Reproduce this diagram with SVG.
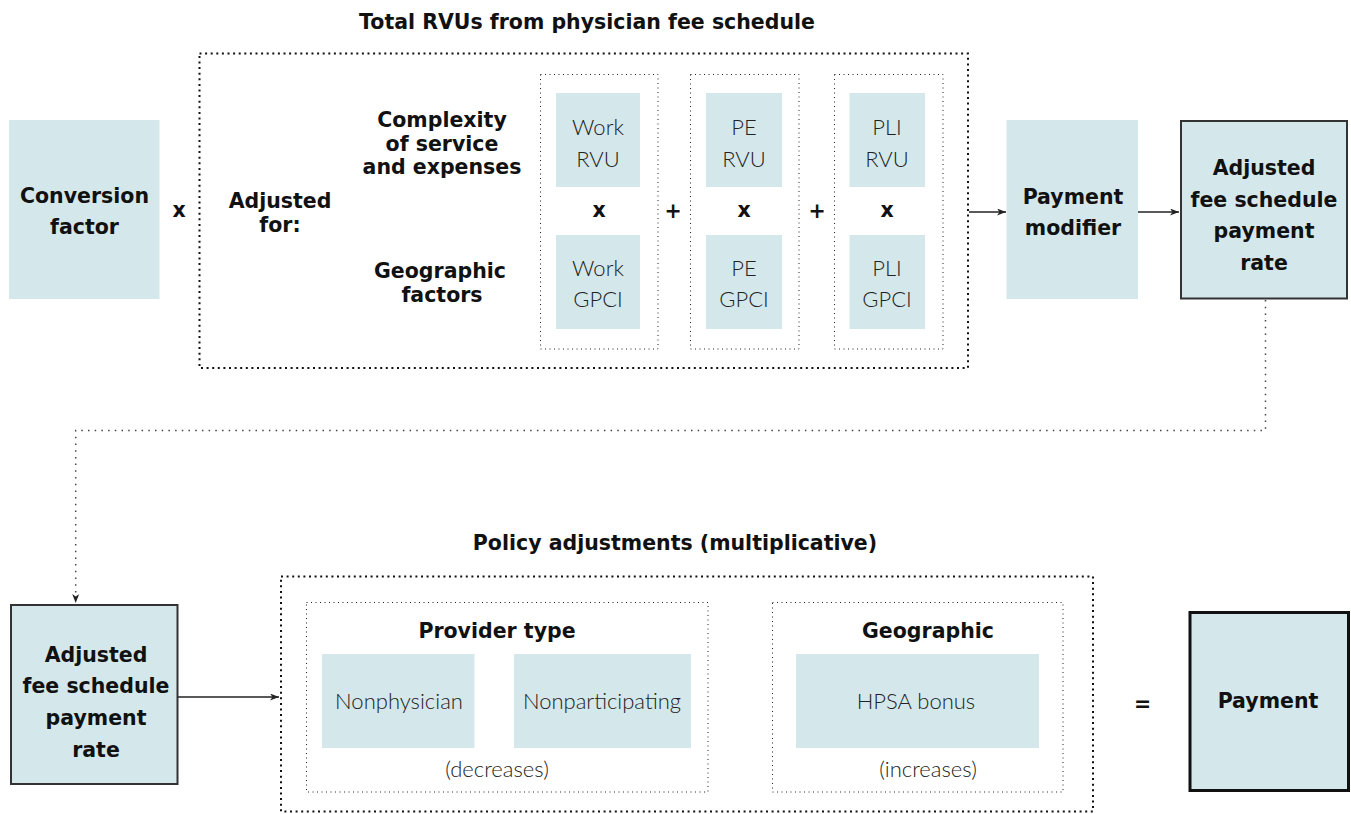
<svg xmlns="http://www.w3.org/2000/svg" width="1351" height="814" viewBox="0 0 1351 814">
<style>
.fill{fill:#d4e8eb;stroke:none}
.framed{fill:#d4e8eb;stroke:#333;stroke-width:2}
.heavy{fill:#d4e8eb;stroke:#111;stroke-width:3}
.bigdot{fill:none;stroke:#111;stroke-width:2;stroke-dasharray:2 3.6}
.thindot{fill:none;stroke:#222;stroke-width:1;stroke-dasharray:1 3.5}
.b{font-family:"DejaVu Sans","Liberation Sans",sans-serif;font-weight:bold;font-size:20.5px;fill:#111;text-anchor:middle}
.l{font-family:Lato,"Liberation Sans",Arial,sans-serif;font-weight:300;font-size:22px;fill:#222;text-anchor:middle}
.solid{fill:none;stroke:#222;stroke-width:1.5}
.dotted{fill:none;stroke:#444;stroke-width:1.5;stroke-dasharray:1.5 5.2}
</style>
<defs>
<marker id="ah" markerUnits="userSpaceOnUse" markerWidth="10" markerHeight="8" refX="9" refY="3.5" orient="auto">
<path d="M0,0 L9,3.5 L0,7 L2.5,3.5 Z" fill="#222"/>
</marker>
</defs>

<g id="title-rvu"><text class="b" x="587" y="29">Total RVUs from physician fee schedule</text></g>

<g id="conversion-factor">
<rect class="fill" x="9" y="120" width="150.5" height="179"/>
<text class="b" x="84.5" y="203">Conversion</text>
<text class="b" x="84.5" y="234">factor</text>
</g>
<g id="op-x1"><text class="b" x="179" y="217">x</text></g>

<g id="rvu-group">
<rect class="bigdot" x="199.5" y="53.5" width="768.5" height="314.5"/>
<text class="b" x="280" y="208">Adjusted</text>
<text class="b" x="280" y="232">for:</text>
<text class="b" x="442" y="127">Complexity</text>
<text class="b" x="442" y="151">of service</text>
<text class="b" x="442" y="174">and expenses</text>
<text class="b" x="440" y="278">Geographic</text>
<text class="b" x="442" y="302">factors</text>
</g>

<g id="col-work">
<rect class="thindot" x="540.5" y="74.5" width="117.5" height="274.5"/>
<rect class="fill" x="556" y="93" width="84" height="94"/>
<text class="l" x="598" y="135">Work</text>
<text class="l" x="598" y="167">RVU</text>
<text class="b" x="599" y="217">x</text>
<rect class="fill" x="556" y="235" width="84" height="94"/>
<text class="l" x="598" y="276">Work</text>
<text class="l" x="598" y="307">GPCI</text>
</g>
<g id="op-plus1"><text class="b" x="673" y="218">+</text></g>

<g id="col-pe">
<rect class="thindot" x="690.5" y="74.5" width="108.5" height="274.5"/>
<rect class="fill" x="706" y="93" width="76" height="94"/>
<text class="l" x="744" y="135">PE</text>
<text class="l" x="744" y="167">RVU</text>
<text class="b" x="744" y="217">x</text>
<rect class="fill" x="706" y="235" width="76" height="94"/>
<text class="l" x="744" y="276">PE</text>
<text class="l" x="744" y="307">GPCI</text>
</g>
<g id="op-plus2"><text class="b" x="817" y="218">+</text></g>

<g id="col-pli">
<rect class="thindot" x="834.5" y="74.5" width="108.5" height="274.5"/>
<rect class="fill" x="849.5" y="93" width="75.5" height="94"/>
<text class="l" x="887" y="135">PLI</text>
<text class="l" x="887" y="167">RVU</text>
<text class="b" x="887" y="217">x</text>
<rect class="fill" x="849.5" y="235" width="75.5" height="94"/>
<text class="l" x="887" y="276">PLI</text>
<text class="l" x="887" y="307">GPCI</text>
</g>

<g id="payment-modifier">
<rect class="fill" x="1006.5" y="120" width="131.5" height="179"/>
<text class="b" x="1073" y="204">Payment</text>
<text class="b" x="1073" y="235">modifier</text>
</g>

<g id="adjusted-rate-top">
<rect class="framed" x="1181" y="121" width="166" height="177.5"/>
<text class="b" x="1264" y="175">Adjusted</text>
<text class="b" x="1264" y="207">fee schedule</text>
<text class="b" x="1264" y="238">payment</text>
<text class="b" x="1264" y="270">rate</text>
</g>

<g id="adjusted-rate-bottom">
<rect class="framed" x="11" y="605" width="166.5" height="179"/>
<text class="b" x="96" y="662">Adjusted</text>
<text class="b" x="96" y="693">fee schedule</text>
<text class="b" x="96" y="725">payment</text>
<text class="b" x="96" y="757">rate</text>
</g>

<g id="title-policy"><text class="b" x="675" y="550">Policy adjustments (multiplicative)</text></g>

<g id="policy-group">
<rect class="bigdot" x="281" y="576.5" width="812" height="235"/>
</g>

<g id="provider-type">
<rect class="thindot" x="306.5" y="602.5" width="401.5" height="189.5"/>
<text class="b" x="497" y="638">Provider type</text>
<rect class="fill" x="322" y="654" width="152.5" height="94"/>
<text class="l" x="399" y="709">Nonphysician</text>
<rect class="fill" x="514" y="654" width="177" height="94"/>
<text class="l" x="602" y="709">Nonparticipating</text>
<text class="l" x="497" y="777">(decreases)</text>
</g>

<g id="geographic">
<rect class="thindot" x="772.5" y="602.5" width="290.5" height="189.5"/>
<text class="b" x="928" y="638">Geographic</text>
<rect class="fill" x="796" y="654" width="243" height="94"/>
<text class="l" x="916" y="709">HPSA bonus</text>
<text class="l" x="928" y="777">(increases)</text>
</g>

<g id="op-equals"><text class="b" x="1142.5" y="711">=</text></g>

<g id="payment">
<rect class="heavy" x="1190" y="612.5" width="158.5" height="178"/>
<text class="b" x="1268" y="708">Payment</text>
</g>

<g id="connectors">
<line class="solid" x1="969" y1="212" x2="1006" y2="212" marker-end="url(#ah)"/>
<line class="solid" x1="1138" y1="212" x2="1179" y2="212" marker-end="url(#ah)"/>
<path class="dotted" d="M1265.5,300 V430.5 H75.7 V603" marker-end="url(#ah)"/>
<line class="solid" x1="178" y1="697" x2="279" y2="697" marker-end="url(#ah)"/>
</g>
</svg>
